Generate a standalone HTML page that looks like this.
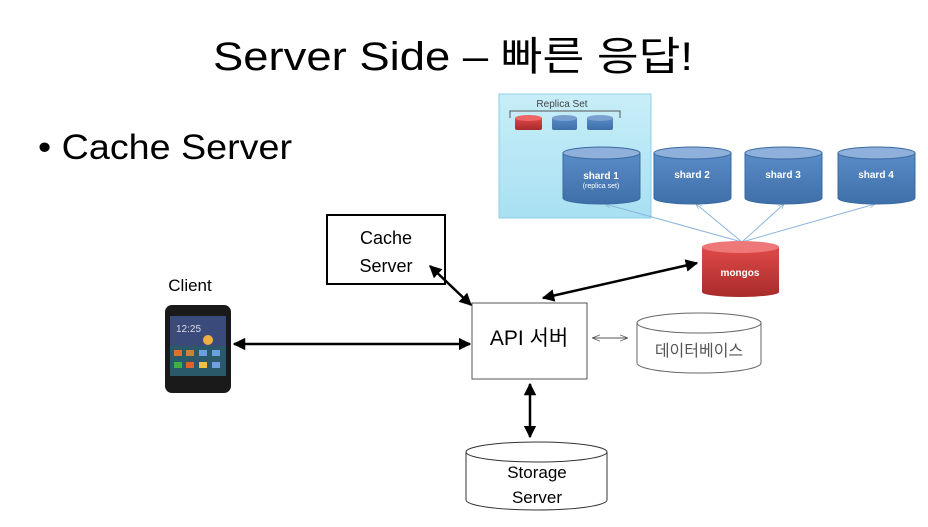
<!DOCTYPE html>
<html><head><meta charset="utf-8"><style>
body{margin:0;background:#fff;width:928px;height:522px;overflow:hidden}
svg text{font-family:"Liberation Sans","Noto Sans CJK KR",sans-serif}
</style></head><body>
<svg width="928" height="522" viewBox="0 0 928 522" xmlns="http://www.w3.org/2000/svg">
<defs>
<marker id="a" viewBox="0 0 10 10" refX="9" refY="5" markerWidth="5" markerHeight="5" orient="auto-start-reverse"><path d="M0,0L10,5L0,10z" fill="#000"/></marker>
<marker id="t" viewBox="0 0 10 10" refX="9" refY="5" markerWidth="8" markerHeight="8" orient="auto-start-reverse"><path d="M0,1L10,5L0,9" fill="none" stroke="#555" stroke-width="1"/></marker>
<marker id="b" viewBox="0 0 10 10" refX="9" refY="5" markerWidth="6" markerHeight="6" orient="auto"><path d="M0,1L10,5L0,9" fill="none" stroke="#8ab" stroke-width="1"/></marker>
<linearGradient id="bl" x1="0" y1="0" x2="0" y2="1"><stop offset="0" stop-color="#5a8cc8"/><stop offset="1" stop-color="#3f6fa8"/></linearGradient>
<linearGradient id="rd" x1="0" y1="0" x2="0" y2="1"><stop offset="0" stop-color="#e04a4a"/><stop offset="1" stop-color="#a82a2a"/></linearGradient>
<linearGradient id="cy" x1="0" y1="0" x2="0" y2="1"><stop offset="0" stop-color="#c8eef8"/><stop offset="1" stop-color="#a8e0f2"/></linearGradient>
</defs>
<text x="213" y="70" font-size="40" textLength="480" lengthAdjust="spacingAndGlyphs" fill="#000">Server Side – 빠른 응답!</text>
<text x="38" y="159" font-size="35" textLength="254" lengthAdjust="spacingAndGlyphs" fill="#000">• Cache Server</text>

<rect x="499" y="94" width="152" height="124" fill="url(#cy)" stroke="#8cd0e8"/>
<text x="562" y="107" font-size="10" text-anchor="middle" fill="#444">Replica Set</text>
<path d="M510,118V111H620V118" fill="none" stroke="#555"/>
<g>
<rect x="515" y="117" width="27" height="13" rx="2" fill="url(#rd)"/><ellipse cx="528.5" cy="118" rx="13.5" ry="3" fill="#e66"/>
<rect x="552" y="117" width="25" height="13" rx="2" fill="url(#bl)"/><ellipse cx="564.5" cy="118" rx="12.5" ry="3" fill="#7aa0d0"/>
<rect x="587" y="117" width="26" height="13" rx="2" fill="url(#bl)"/><ellipse cx="600" cy="118" rx="13" ry="3" fill="#7aa0d0"/>
</g>
<g stroke="#8ab4de" stroke-width="1">
<line x1="742" y1="242" x2="605" y2="204" marker-end="url(#b)"/>
<line x1="742" y1="242" x2="696" y2="204" marker-end="url(#b)"/>
<line x1="742" y1="242" x2="784" y2="204" marker-end="url(#b)"/>
<line x1="742" y1="242" x2="875" y2="204" marker-end="url(#b)"/>
</g>
<g font-size="10" font-weight="bold" fill="#fff" text-anchor="middle">
<path d="M563,153V198A38.5,6 0 0 0 640,198V153z" fill="url(#bl)" stroke="#3a6aa0"/><ellipse cx="601.5" cy="153" rx="38.5" ry="6" fill="#8fb0da" stroke="#3a6aa0"/>
<text x="601" y="179">shard 1</text><text x="601" y="188" font-size="7" font-weight="normal">(replica set)</text>
<path d="M654,153V198A38.5,6 0 0 0 731,198V153z" fill="url(#bl)" stroke="#3a6aa0"/><ellipse cx="692.5" cy="153" rx="38.5" ry="6" fill="#8fb0da" stroke="#3a6aa0"/>
<text x="692" y="178">shard 2</text>
<path d="M745,153V198A38.5,6 0 0 0 822,198V153z" fill="url(#bl)" stroke="#3a6aa0"/><ellipse cx="783.5" cy="153" rx="38.5" ry="6" fill="#8fb0da" stroke="#3a6aa0"/>
<text x="783" y="178">shard 3</text>
<path d="M838,153V198A38.5,6 0 0 0 915,198V153z" fill="url(#bl)" stroke="#3a6aa0"/><ellipse cx="876.5" cy="153" rx="38.5" ry="6" fill="#8fb0da" stroke="#3a6aa0"/>
<text x="876" y="178">shard 4</text>
<path d="M702,247V292A38.5,5 0 0 0 779,292V247z" fill="url(#rd)"/><ellipse cx="740.5" cy="247" rx="38.5" ry="6" fill="#e77"/>
<text x="740" y="276">mongos</text>
</g>

<rect x="327" y="215" width="118" height="69" fill="#fff" stroke="#000" stroke-width="2"/>
<text x="386" y="244" font-size="18" text-anchor="middle">Cache</text>
<text x="386" y="272" font-size="18" text-anchor="middle">Server</text>

<rect x="472" y="303" width="115" height="76" fill="#fff" stroke="#555" stroke-width="1"/>
<text x="529" y="345" font-size="21" text-anchor="middle">API 서버</text>

<g stroke="#000" stroke-width="2.5" fill="none">
<line x1="543" y1="298" x2="697" y2="263" marker-start="url(#a)" marker-end="url(#a)"/>
<line x1="430" y1="266" x2="471" y2="305" marker-start="url(#a)" marker-end="url(#a)"/>
<line x1="234" y1="344" x2="470" y2="344" marker-start="url(#a)" marker-end="url(#a)"/>
<line x1="530" y1="384" x2="530" y2="437" marker-start="url(#a)" marker-end="url(#a)"/>
</g>
<line x1="593" y1="338" x2="627" y2="338" stroke="#555" stroke-width="1" marker-start="url(#t)" marker-end="url(#t)"/>

<path d="M637,323V363A62,10 0 0 0 761,363V323" fill="#fff" stroke="#666"/>
<ellipse cx="699" cy="323" rx="62" ry="10" fill="#fff" stroke="#666"/>
<text x="699" y="356" font-size="16" text-anchor="middle" fill="#555">데이터베이스</text>

<path d="M466,452V500A70.5,10 0 0 0 607,500V452" fill="#fff" stroke="#333"/>
<ellipse cx="536.5" cy="452" rx="70.5" ry="10" fill="#fff" stroke="#333"/>
<text x="537" y="478" font-size="17" text-anchor="middle">Storage</text>
<text x="537" y="503" font-size="17" text-anchor="middle">Server</text>

<text x="190" y="291" font-size="17" text-anchor="middle">Client</text>
<rect x="165" y="305" width="66" height="88" rx="7" fill="#1a1a1a"/>
<rect x="170" y="316" width="56" height="60" fill="#3a4a7a"/>
<rect x="170" y="346" width="56" height="30" fill="#2a5a6a"/>
<circle cx="208" cy="340" r="5" fill="#f0b040"/>
<text x="176" y="332" font-size="10" fill="#ddd">12:25</text>
<rect x="174" y="350" width="8" height="6" fill="#e07030"/><rect x="186" y="350" width="8" height="6" fill="#d08030"/><rect x="199" y="350" width="8" height="6" fill="#6aa0e0"/><rect x="212" y="350" width="8" height="6" fill="#6aa0e0"/>
<rect x="174" y="362" width="8" height="6" fill="#40b040"/><rect x="186" y="362" width="8" height="6" fill="#e06030"/><rect x="199" y="362" width="8" height="6" fill="#f0c040"/><rect x="212" y="362" width="8" height="6" fill="#70a0e0"/>
</svg>
</body></html>
